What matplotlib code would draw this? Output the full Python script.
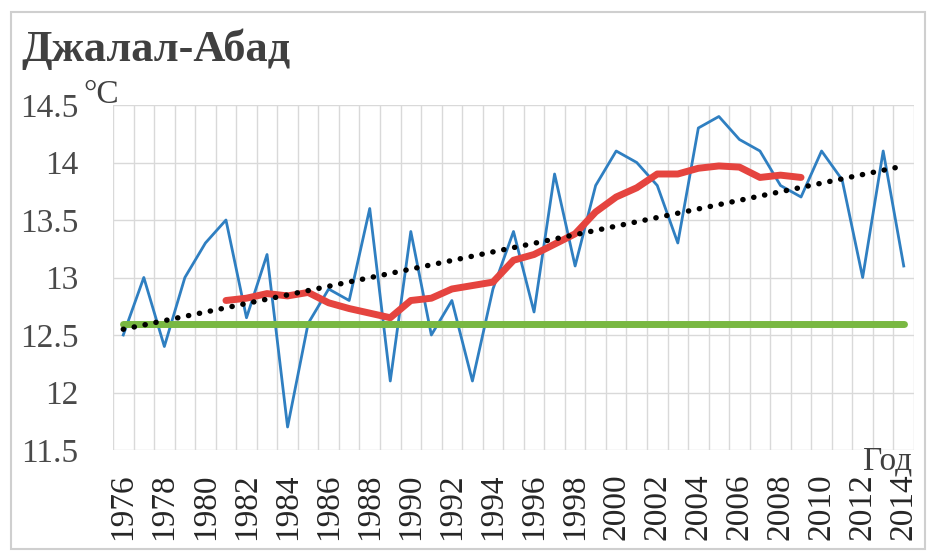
import numpy as np
import matplotlib.pyplot as plt
from matplotlib.patches import Rectangle

plt.rcParams['font.family'] = ['Liberation Serif', 'DejaVu Serif']

# Annual mean air temperature, Jalal-Abad station
years = list(range(1976, 2015))
temp = [12.5, 13.0, 12.4, 13.0, 13.3, 13.5, 12.65, 13.2, 11.7, 12.6,
        12.9, 12.8, 13.6, 12.1, 13.4, 12.5, 12.8, 12.1, 12.9, 13.4,
        12.7, 13.9, 13.1, 13.8, 14.1, 14.0, 13.8, 13.3, 14.3, 14.4,
        14.2, 14.1, 13.8, 13.7, 14.1, 13.85, 13.0, 14.1, 13.1]

# 11-year running mean (centred)
ma_years = list(range(1981, 2010))
ma_temp = [12.8, 12.82, 12.86, 12.84, 12.87, 12.78, 12.73, 12.69, 12.65, 12.8,
           12.82, 12.9, 12.93, 12.96, 13.15, 13.2, 13.29, 13.38, 13.57, 13.7,
           13.78, 13.9, 13.9, 13.95, 13.97, 13.96, 13.87, 13.89, 13.87]

# climate norm and linear trend end points
norm_years = [1976, 2014]
norm_temp = [12.6, 12.6]
trend_years = [1976, 2014]
trend_temp = [12.55, 13.97]

y_ticks = [11.5, 12, 12.5, 13, 13.5, 14, 14.5]
y_labels = ['11.5', '12', '12.5', '13', '13.5', '14', '14.5']
x_labels = [str(y) for y in range(1976, 2015, 2)]

W, H = 931, 553
fig = plt.figure(figsize=(W / 100, H / 100), dpi=100)
ax = fig.add_axes([113 / W, 1 - 450 / H, 801 / W, 345 / H])

ax.plot(years, temp, color='#2f7fc1', lw=2.0, zorder=3)
ax.plot(ma_years, ma_temp, color='#e5443f', lw=5, solid_capstyle='round', zorder=4)
ax.plot(norm_years, norm_temp, color='#79b842', lw=5, solid_capstyle='round', zorder=4)
ax.plot(trend_years, trend_temp, color='black', lw=3.9, linestyle=(0, (0.05, 2.0)),
        dash_capstyle='round', zorder=5)

ax.set_xlim(1975.5, 2014.5)
ax.set_ylim(11.5, 14.5)

ax.set_yticks(y_ticks)
ax.set_yticklabels(y_labels)
ax.set_xticks(range(1976, 2015, 2))
ax.set_xticklabels(x_labels, rotation=90)
ax.set_xticks(np.arange(1975.5, 2015, 1), minor=True)

ax.tick_params(axis='y', length=0, pad=25, labelsize=24, labelcolor='#4a4a4a')
ax.tick_params(axis='x', which='both', length=0, pad=17, labelsize=24, labelcolor='#262626')

ax.grid(axis='y', color='#d9d9d9', lw=1)
ax.grid(axis='x', which='minor', color='#d9d9d9', lw=1)
for s in ax.spines.values():
    s.set_visible(False)

fig.text(21 / W, 1 - 61 / H, 'Джалал-Абад', fontsize=32, fontweight='bold',
         color='#404040', va='baseline')
fig.text(83 / W, 1 - 103 / H, '°C', fontsize=24, color='#404040', va='baseline')
fig.text(912 / W, 1 - 446 / H, 'Год', fontsize=24, color='#404040', ha='right', va='top')

fig.patches.append(Rectangle((11 / W, 1 - 549 / H), 914 / W, 537 / H,
                             transform=fig.transFigure, fill=False,
                             ec='#cfcfcf', lw=1.5))

fig.savefig('out.png', dpi=100)
